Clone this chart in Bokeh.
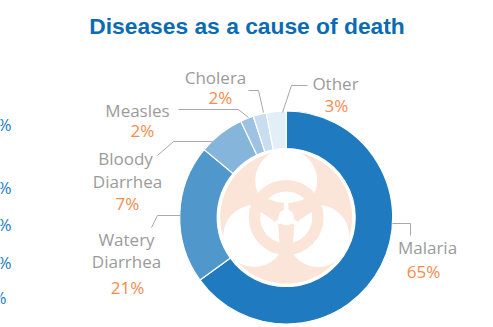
import numpy as np
from bokeh.core.properties import value
from bokeh.embed import file_html
from bokeh.models import ColumnDataSource, Range1d
from bokeh.plotting import figure
from bokeh.resources import INLINE

W, H = 493, 327

# Share of deaths by disease, clockwise from twelve o'clock
diseases = ["Malaria", "Watery Diarrhea", "Bloody Diarrhea", "Measles", "Cholera", "Other"]
shares = [65, 21, 7, 2, 2, 3]
slice_colors = ["#1F7ABF", "#5097CC", "#86B5DC", "#9DC2E2", "#C8DDF0", "#E3EFF7"]

# Label text: name lines with their anchor, then the percentage
name_lines = ["Malaria", "Watery", "Diarrhea", "Bloody", "Diarrhea", "Measles", "Cholera", "Other"]
name_x = [427, 126, 126, 125, 127, 137, 215, 335]
name_y = [247, 239, 261, 158, 181, 110, 77, 83]
pct_labels = [f"{s}%" for s in shares]
pct_x = [423, 127, 127, 142, 220, 336]
pct_y = [271, 287, 203, 130, 97, 105]

# Leader lines from each slice to its label
leaders = [
    ([392, 410, 410], [223, 223, 235]),
    ([180, 157, 151], [215, 215, 227]),
    ([212, 173, 157], [141, 141, 155]),
    ([248, 238, 178], [117, 109, 109]),
    ([263, 258, 248], [112, 90, 90]),
    ([282, 291, 307], [112, 85, 85]),
]

# Percent signs of a neighbouring panel, running off the page edge
edge_labels = ["%", "%", "%", "%", "%"]
edge_right = [11, 11, 11, 11, 6]
edge_y = [124, 187, 224, 262, 297]

CX, CY = 285.7, 217.0
R_OUT, R_IN, R_DISC = 106.5, 69.0, 66.0
PEACH = "#FBE4D8"
FONT = "Open Sans"


def fy(y):
    return H - np.asarray(y, dtype=float)


p = figure(width=W, height=H, output_backend="svg", toolbar_location=None,
           x_range=Range1d(0, W), y_range=Range1d(0, H),
           x_axis_type=None, y_axis_type=None, min_border=0,
           outline_line_color=None, background_fill_color="white")
p.grid.visible = False

# Donut
fractions = np.asarray(shares, dtype=float) / sum(shares)
ends = np.cumsum(fractions)
starts = ends - fractions
top = np.pi / 2
src = ColumnDataSource(dict(
    start=top - 2 * np.pi * starts,
    end=top - 2 * np.pi * ends,
    color=slice_colors,
))
p.annular_wedge(x=CX, y=fy(CY), inner_radius=R_IN, outer_radius=R_OUT,
                start_angle="start", end_angle="end", direction="clock",
                fill_color="color", line_color="white", line_width=1.2, source=src)


def disc(r, dx=0.0, dy=0.0, color="white"):
    p.circle(x=CX + dx, y=fy(CY + dy), radius=r, fill_color=color, line_color=None)


def polar(r, deg):
    a = np.radians(deg)
    return r * np.cos(a), -r * np.sin(a)


def shape(pts, color="white"):
    xs = [CX + q[0] for q in pts]
    ys = [CY + q[1] for q in pts]
    p.patch(xs, fy(ys), fill_color=color, line_color=None)


def arc(r, a0, a1, n=24):
    return [polar(r, t) for t in np.linspace(a0, a1, n)]


# Biohazard emblem in the donut's hole
disc(R_DISC, color=PEACH)
for deg in (90, 210, 330):
    dx, dy = polar(37, deg)
    disc(31, dx, dy)
disc(37.5, color=PEACH)

# Inner cut-outs: lens on top, two wedges below
lens_floor = [(x, -14.5 - 4.5 * (x / 19) ** 2) for x in np.linspace(19, -19, 24)]
shape(arc(26, 135, 45) + lens_floor)
shape(arc(26, 168, 255) + [(-8, 9), (-14, 2)])
shape(arc(26, 12, -75) + [(8, 9), (14, 2)])

# Hub and its three thin spokes
disc(8)
for deg in (90, 210, 330):
    a = polar(2.2, deg + 90)
    o = polar(17, deg)
    shape([(a[0], a[1]), (-a[0], -a[1]), (o[0] - a[0], o[1] - a[1]), (o[0] + a[0], o[1] + a[1])])

# Leader lines
for xs, ys in leaders:
    p.line(xs, fy(ys), line_color="#A8A8A8", line_width=1)

# Labels
p.text(x=name_x, y=fy(name_y), text=name_lines, text_color="#9B9B9B",
       text_font=value(FONT), text_font_size="17px",
       text_align="center", text_baseline="middle")
p.text(x=pct_x, y=fy(pct_y), text=pct_labels, text_color="#F58B4C",
       text_font=value(FONT), text_font_size="17px",
       text_align="center", text_baseline="middle")
p.text(x=edge_right, y=fy(edge_y), text=edge_labels, text_color="#1E7CC4",
       text_font=value(FONT), text_font_size="17px",
       text_align="right", text_baseline="middle")

# Title
p.text(x=[246.5], y=fy([25]), text=["Diseases as a cause of death"], text_color="#0A6BB5",
       text_font=value("Liberation Sans"), text_font_style="bold", text_font_size="22.8px",
       text_align="center", text_baseline="middle")

open("out.html", "w").write(file_html(p, INLINE))
